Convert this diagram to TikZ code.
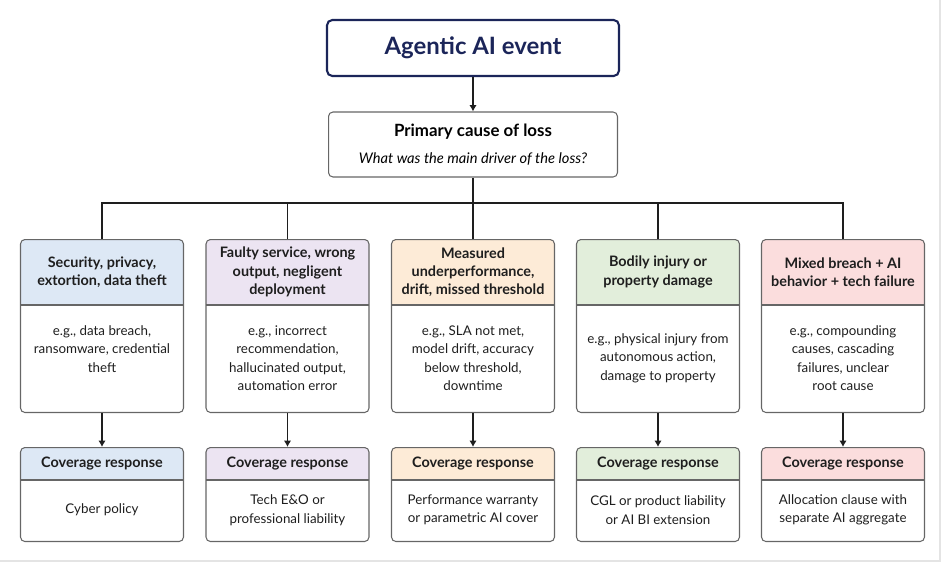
\documentclass[tikz,border=0pt]{standalone}
\usepackage{fontspec}
\setmainfont{Lato}
\usetikzlibrary{arrows.meta}
\usetikzlibrary{calc}

\definecolor{navy}{HTML}{1B2559}
\definecolor{edge}{HTML}{666666}
\definecolor{ink}{HTML}{1E1E1E}
\definecolor{hdblue}{HTML}{DDE8F5}
\definecolor{hdpurple}{HTML}{ECE4F2}
\definecolor{hdorange}{HTML}{FDEBD7}
\definecolor{hdgreen}{HTML}{E2EEDB}
\definecolor{hdred}{HTML}{FBDDDD}
\definecolor{frameline}{HTML}{E4E4E4}

\tikzset{
  card/.style={draw=edge, line width=0.6pt, rounded corners=2.5pt, minimum width=3.26cm, inner sep=0pt},
  headtext/.style={font=\bfseries\fontsize{8.2}{10.4}\selectfont, align=center, text=ink},
  bodytext/.style={font=\fontsize{7.6}{10.5}\selectfont, align=center, text=ink},
  link/.style={line width=0.85pt, ink},
  arr/.style={link, -{Latex[length=3.6pt,width=4.2pt]}},
}

\begin{document}
\begin{tikzpicture}[x=0.02cm, y=-0.02cm]
\useasboundingbox (0,0) rectangle (947,568);
\draw[frameline, line width=0.8pt] (0,561) -- (940,561) -- (940,0);

% top of the tree
\node[draw=navy, line width=1.2pt, rounded corners=3pt, minimum width=5.84cm, minimum height=1.12cm,
      text=navy, font=\bfseries\fontsize{13.6}{16}\selectfont] (event) at (473,48) {Agentic AI event};

\node[card, minimum width=5.78cm, minimum height=1.3cm, align=center] (cause) at (473,144.5)
  {{\bfseries\fontsize{9.6}{12}\selectfont Primary cause of loss}\\[3pt]
   {\itshape\fontsize{8.35}{10}\selectfont What was the main driver of the loss?}};

\draw[arr] (event.south) -- (cause.north);

\coordinate (bus) at (473,203);
\draw[link] (cause.south) -- (bus);

% one column per cause
\foreach \i/\x/\c/\h/\b/\r in {
  1/102/hdblue/{Security, privacy,\\ extortion, data theft}/{e.g., data breach,\\ ransomware, credential\\ theft\\ \mbox{}}/{Cyber policy},
  2/287.5/hdpurple/{Faulty service, wrong\\ output, negligent\\ deployment}/{e.g., incorrect\\ recommendation,\\ hallucinated output,\\ automation error}/{Tech E\&O or\\ professional liability},
  3/473/hdorange/{Measured\\ underperformance,\\ drift, missed threshold}/{e.g., SLA not met,\\ model drift, accuracy\\ below threshold,\\ downtime}/{Performance warranty\\ or parametric AI cover},
  4/658/hdgreen/{Bodily injury or\\ property damage}/{e.g., physical injury from\\ autonomous action,\\ damage to property}/{CGL or product liability\\ or AI BI extension},
  5/843/hdred/{Mixed breach + AI\\ behavior + tech failure}/{e.g., compounding\\ causes, cascading\\ failures, unclear\\ root cause}/{Allocation clause with\\ separate AI aggregate}}
{
  \fill[\c] (\x-81.5,305) [rounded corners=2.5pt] -- (\x-81.5,239) -- (\x+81.5,239) [sharp corners] -- (\x+81.5,305) -- cycle;
  \node[card, minimum height=3.46cm, anchor=north] (col\i) at (\x,239) {};
  \draw[edge, line width=0.6pt] (\x-81.5,305) -- (\x+81.5,305);
  \node[headtext] (head\i) at (\x,272) {\h};
  \node[bodytext] (body\i) at (\x,358) {\b};

  \fill[\c] (\x-81.5,480) [rounded corners=2.5pt] -- (\x-81.5,447) -- (\x+81.5,447) [sharp corners] -- (\x+81.5,480) -- cycle;
  \node[card, minimum height=1.88cm, anchor=north] (cov\i) at (\x,447) {};
  \draw[edge, line width=0.6pt] (\x-81.5,480) -- (\x+81.5,480);
  \node[headtext] (covhead\i) at (\x,463.5) {Coverage response};
  \node[bodytext] (covbody\i) at (\x,510) {\r};

  \draw[link] (col\i.north) |- (bus);
  \draw[arr] (col\i.south) -- (cov\i.north);
}

\end{tikzpicture}
\end{document}
